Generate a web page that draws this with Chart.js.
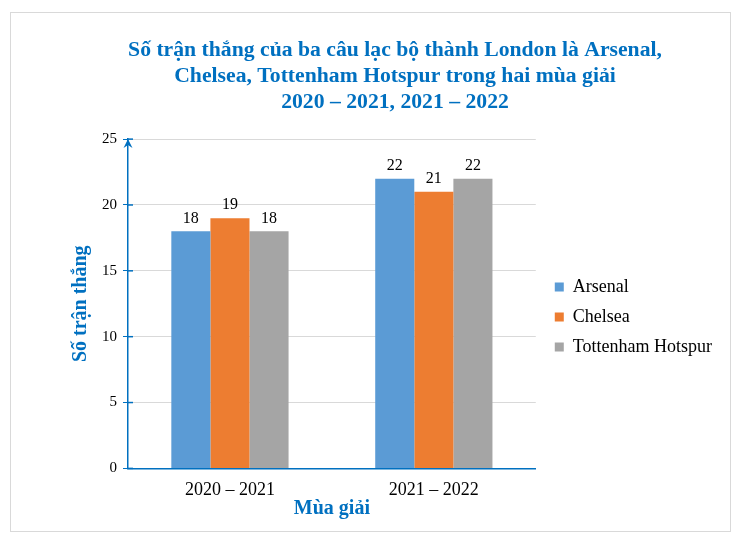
<!DOCTYPE html>
<html>
<head>
<meta charset="utf-8">
<script src="https://cdn.jsdelivr.net/npm/chart.js@4/dist/chart.umd.min.js"></script>
<style>
  body { margin: 0; background: #fff; }
  #khung {
    position: absolute; left: 10px; top: 12px;
    width: 719px; height: 518px;
    border: 1px solid #d9d9d9;
  }
</style>
</head>
<body>
<div id="khung"><canvas id="bieuDo" width="719" height="518"></canvas></div>
<script>
// Dữ liệu biểu đồ
const muaGiai = ["2020 – 2021", "2021 – 2022"];
const arsenal = [18, 22];
const chelsea = [19, 21];
const tottenham = [18, 22];
const tieuDe = [
  "Số trận thắng của ba câu lạc bộ thành London là Arsenal,",
  "Chelsea, Tottenham Hotspur trong hai mùa giải",
  "2020 – 2021, 2021 – 2022"
];

const XANH = "#0070C0";
const FONT = "'Liberation Serif', 'Times New Roman', serif";

// Vẽ số trên đầu cột
const nhanSo = {
  id: "nhanSo",
  afterDatasetsDraw(chart) {
    const ctx = chart.ctx;
    ctx.save();
    ctx.font = "16px " + FONT;
    ctx.fillStyle = "#000";
    ctx.textAlign = "center";
    ctx.textBaseline = "bottom";
    chart.data.datasets.forEach((ds, i) => {
      chart.getDatasetMeta(i).data.forEach((bar, j) => {
        ctx.fillText(ds.data[j], bar.x, bar.y - 5);
      });
    });
    ctx.restore();
  }
};

// Mũi tên trục tung + vạch chia, dịch tiêu đề và chú thích
const trucTung = {
  id: "trucTung",
  afterLayout(chart) {
    chart.titleBlock.left += 3;
    chart.titleBlock.right += 3;
    const lg = chart.legend;
    lg.left += 7; lg.right += 7;
    lg.top += 51; lg.bottom += 51;
  },
  afterDraw(chart) {
    const y = chart.scales.y;
    const x0 = y.right;
    const ctx = chart.ctx;
    ctx.save();
    ctx.strokeStyle = XANH;
    ctx.fillStyle = XANH;
    ctx.lineWidth = 1.5;
    y.ticks.forEach(t => {
      const py = y.getPixelForValue(t.value);
      ctx.beginPath();
      ctx.moveTo(x0, py);
      ctx.lineTo(x0 + 5, py);
      ctx.stroke();
    });
    const top = y.getPixelForValue(y.max);
    ctx.beginPath();
    ctx.moveTo(x0, top);
    ctx.lineTo(x0 - 4.5, top + 9);
    ctx.lineTo(x0, top + 6);
    ctx.lineTo(x0 + 4.5, top + 9);
    ctx.closePath();
    ctx.fill();
    ctx.restore();
  }
};

new Chart(document.getElementById("bieuDo"), {
  type: "bar",
  data: {
    labels: muaGiai,
    datasets: [
      { label: "Arsenal", data: arsenal, backgroundColor: "#5B9BD5" },
      { label: "Chelsea", data: chelsea, backgroundColor: "#ED7D31" },
      { label: "Tottenham Hotspur", data: tottenham, backgroundColor: "#A5A5A5" }
    ]
  },
  options: {
    responsive: false,
    animation: false,
    categoryPercentage: 0.575,
    barPercentage: 1,
    layout: { padding: { left: 58, right: 15, bottom: 12, top: 0 } },
    plugins: {
      title: {
        display: true,
        text: tieuDe,
        color: XANH,
        font: { family: FONT, size: 21.7, weight: "bold", lineHeight: 1.2 },
        padding: { top: 24, bottom: 24 }
      },
      legend: {
        position: "right",
        maxWidth: 220,
        labels: {
          boxWidth: 9,
          boxHeight: 9,
          padding: 12,
          color: "#000",
          font: { family: FONT, size: 18 }
        }
      },
      tooltip: { enabled: false }
    },
    scales: {
      x: {
        grid: { display: false, drawTicks: false },
        border: { color: XANH, width: 1.5 },
        ticks: { color: "#000", padding: 11, font: { family: FONT, size: 18 } },
        title: {
          display: true,
          text: "Mùa giải",
          color: XANH,
          font: { family: FONT, size: 20, weight: "bold" },
          padding: { top: -15, bottom: -2 }
        }
      },
      y: {
        min: 0,
        max: 25,
        ticks: { stepSize: 5, color: "#000", padding: 6, font: { family: FONT, size: 15 } },
        grid: { color: "#d9d9d9", tickColor: XANH, tickLength: 5 },
        border: { color: XANH, width: 1.5 },
        title: {
          display: true,
          text: "Số trận thắng",
          color: XANH,
          font: { family: FONT, size: 20, weight: "bold" },
          padding: { top: 0, bottom: 3 }
        }
      }
    }
  },
  plugins: [nhanSo, trucTung]
});
</script>
</body>
</html>
